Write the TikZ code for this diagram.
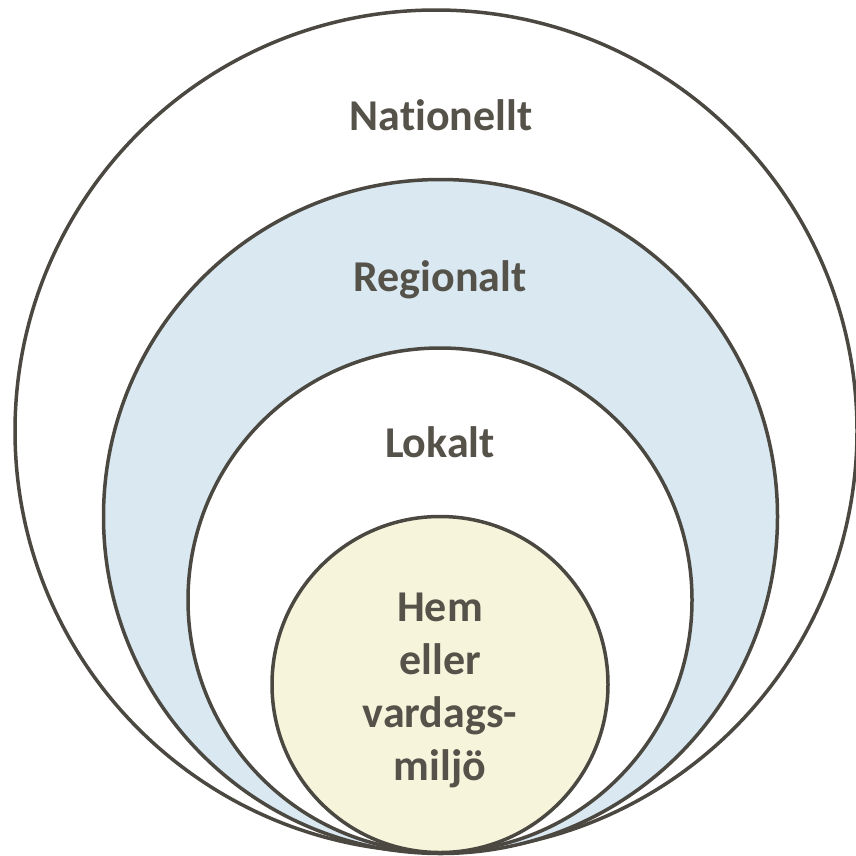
\documentclass[tikz,border=0pt]{standalone}
\usepackage{fontspec}
\setmainfont{Carlito}[Ligatures=NoCommon]
\usetikzlibrary{positioning}

\definecolor{ringline}{HTML}{4A4840}
\definecolor{ringtext}{HTML}{55524A}
\definecolor{regfill}{HTML}{D9E8F1}
\definecolor{homefill}{HTML}{F6F5DC}

\tikzset{
  ring/.style={draw=ringline, line width=3.5pt, circle, inner sep=0pt},
  levellabel/.style={text=ringtext, font=\fontsize{44}{53}\selectfont\bfseries, align=center}
}

\begin{document}
\begin{tikzpicture}[x=1pt,y=-1pt]

\path [use as bounding box] (0,0) rectangle (856,855);

% RINGS
\node [ring, fill=white, minimum size=842pt] (nat) at (436,431) {};
\node [ring, fill=regfill, minimum size=674pt] (reg) at (440.5,516.5) {};
\node [ring, fill=white, minimum size=504pt] (lok) at (440,600) {};
\node [ring, fill=homefill, minimum size=336pt] (hem) at (440,684.5) {};

% LABELS
\node [levellabel] (natlabel) at (441,115) {Nationellt};
\node [levellabel] (reglabel) at (440,280) {Regionalt};
\node [levellabel] (loklabel) at (440,442) {Lokalt};
\node [levellabel] (hemlabel) at (440,690) {Hem\\eller\\vardags-\\miljö};

\end{tikzpicture}
\end{document}
